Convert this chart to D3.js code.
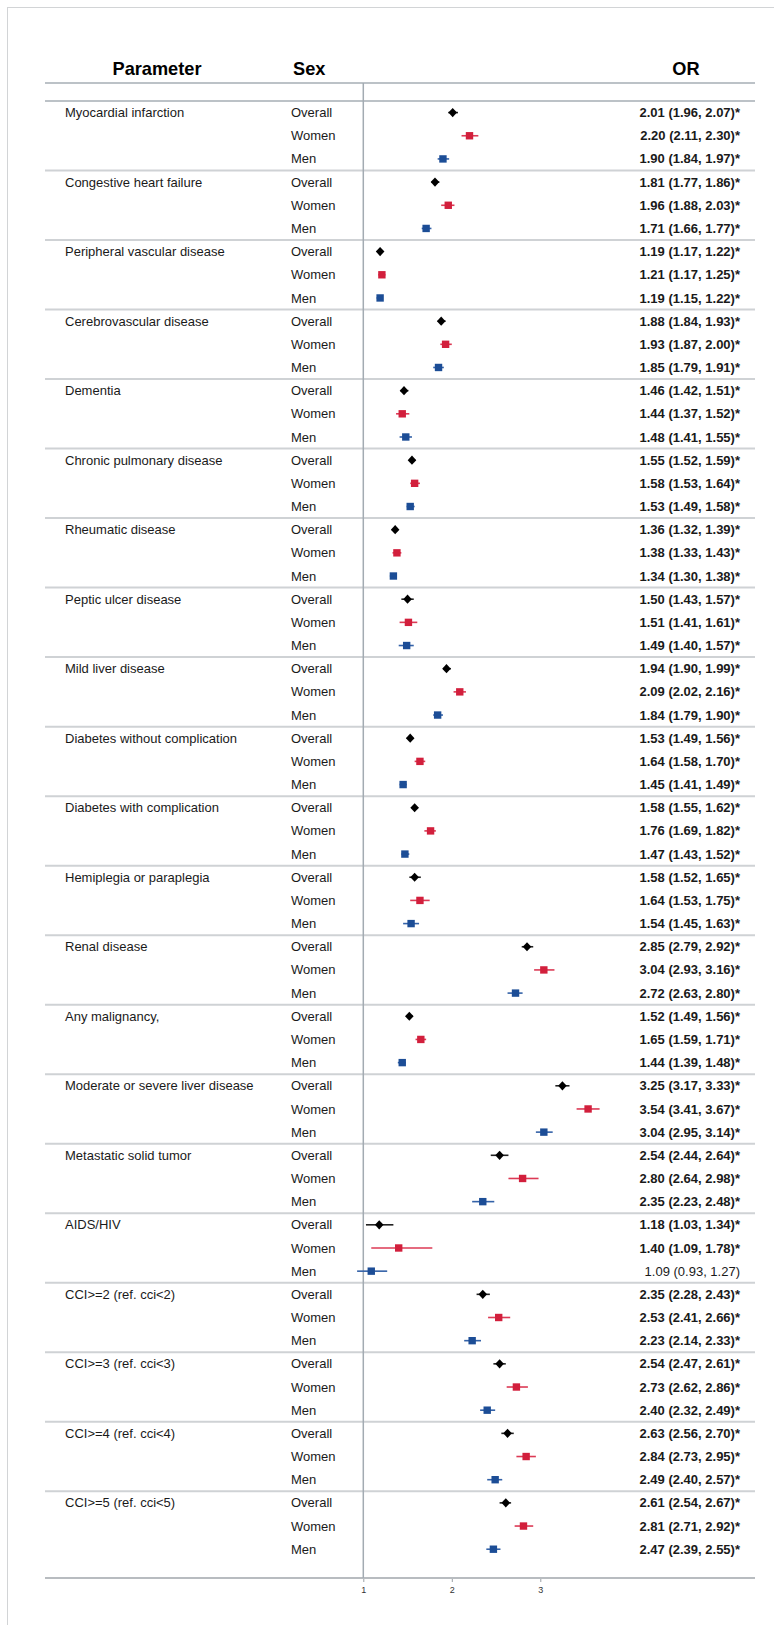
<!DOCTYPE html>
<html>
<head>
<meta charset="utf-8">
<script src="https://cdn.jsdelivr.net/npm/d3@7"></script>
<style>
  html, body { margin: 0; padding: 0; background: #fff; }
  svg { display: block; font-family: "Liberation Sans", Arial, sans-serif; }
</style>
</head>
<body>
<svg id="chart" width="774" height="1625"></svg>
<script>
// ---------- DATA ----------
const parameters = [
  "Myocardial infarction", "Congestive heart failure", "Peripheral vascular disease",
  "Cerebrovascular disease", "Dementia", "Chronic pulmonary disease", "Rheumatic disease",
  "Peptic ulcer disease", "Mild liver disease", "Diabetes without complication",
  "Diabetes with complication", "Hemiplegia or paraplegia", "Renal disease",
  "Any malignancy,", "Moderate or severe liver disease", "Metastatic solid tumor",
  "AIDS/HIV", "CCI>=2 (ref. cci<2)", "CCI>=3 (ref. cci<3)", "CCI>=4 (ref. cci<4)",
  "CCI>=5 (ref. cci<5)"
];
const sexes = ["Overall", "Women", "Men"];

const orOverall = [2.01,1.81,1.19,1.88,1.46,1.55,1.36,1.50,1.94,1.53,1.58,1.58,2.85,1.52,3.25,2.54,1.18,2.35,2.54,2.63,2.61];
const loOverall = [1.96,1.77,1.17,1.84,1.42,1.52,1.32,1.43,1.90,1.49,1.55,1.52,2.79,1.49,3.17,2.44,1.03,2.28,2.47,2.56,2.54];
const hiOverall = [2.07,1.86,1.22,1.93,1.51,1.59,1.39,1.57,1.99,1.56,1.62,1.65,2.92,1.56,3.33,2.64,1.34,2.43,2.61,2.70,2.67];

const orWomen = [2.20,1.96,1.21,1.93,1.44,1.58,1.38,1.51,2.09,1.64,1.76,1.64,3.04,1.65,3.54,2.80,1.40,2.53,2.73,2.84,2.81];
const loWomen = [2.11,1.88,1.17,1.87,1.37,1.53,1.33,1.41,2.02,1.58,1.69,1.53,2.93,1.59,3.41,2.64,1.09,2.41,2.62,2.73,2.71];
const hiWomen = [2.30,2.03,1.25,2.00,1.52,1.64,1.43,1.61,2.16,1.70,1.82,1.75,3.16,1.71,3.67,2.98,1.78,2.66,2.86,2.95,2.92];

const orMen = [1.90,1.71,1.19,1.85,1.48,1.53,1.34,1.49,1.84,1.45,1.47,1.54,2.72,1.44,3.04,2.35,1.09,2.23,2.40,2.49,2.47];
const loMen = [1.84,1.66,1.15,1.79,1.41,1.49,1.30,1.40,1.79,1.41,1.43,1.45,2.63,1.39,2.95,2.23,0.93,2.14,2.32,2.40,2.39];
const hiMen = [1.97,1.77,1.22,1.91,1.55,1.58,1.38,1.57,1.90,1.49,1.52,1.63,2.80,1.48,3.14,2.48,1.27,2.33,2.49,2.57,2.55];

const xTicks = [1, 2, 3];
const headers = ["Parameter", "Sex", "OR"];

// ---------- BUILD ROWS ----------
const series = {
  Overall: {or: orOverall, lo: loOverall, hi: hiOverall, color: "#000000", line: "#222222"},
  Women:   {or: orWomen,   lo: loWomen,   hi: hiWomen,   color: "#d21f3c", line: "#dc3a55"},
  Men:     {or: orMen,     lo: loMen,     hi: hiMen,     color: "#1c4d96", line: "#3462a8"}
};
const rows = [];
parameters.forEach((p, gi) => {
  sexes.forEach((s, si) => {
    const d = series[s];
    rows.push({
      idx: gi * 3 + si, group: gi, param: si === 0 ? p : "", sex: s,
      or: d.or[gi], lo: d.lo[gi], hi: d.hi[gi], color: d.color, line: d.line
    });
  });
});

// ---------- LAYOUT ----------
const svg = d3.select("#chart");
const left = 45, right = 755;
const fmt = d3.format(".2f");

const x = d3.scaleLinear().domain([1, 3]).range([363.3, 540.3]);
const y = d3.scaleBand().domain(d3.range(rows.length)).range([101, 1560.8]).padding(0);
const rowH = y.bandwidth();

// outer frame (extends past viewport, as in reference)
svg.append("rect").attr("x", 7.5).attr("y", 7.5).attr("width", 800).attr("height", 1700)
  .attr("fill", "none").attr("stroke", "#d2d4d6").attr("stroke-width", 1);

// headers
const headerY = 74.5;
const hfs = 18.2;
svg.append("text").attr("x", 157).attr("y", headerY).attr("text-anchor", "middle")
  .attr("font-size", hfs).attr("font-weight", "bold").attr("fill", "#000").text(headers[0]);
svg.append("text").attr("x", 293).attr("y", headerY).attr("text-anchor", "start")
  .attr("font-size", hfs).attr("font-weight", "bold").attr("fill", "#000").text(headers[1]);
svg.append("text").attr("x", 686).attr("y", headerY).attr("text-anchor", "middle")
  .attr("font-size", hfs).attr("font-weight", "bold").attr("fill", "#000").text(headers[2]);

// header rules
[83, y.range()[0]].forEach(yy => {
  svg.append("line").attr("x1", left).attr("x2", right).attr("y1", yy).attr("y2", yy)
    .attr("stroke", "#bcc2c7").attr("stroke-width", 2);
});

// group separators
const seps = d3.range(1, parameters.length).map(k => y(k * 3));
svg.append("g").selectAll("line").data(seps).join("line")
  .attr("x1", left).attr("x2", right).attr("y1", d => d).attr("y2", d => d)
  .attr("stroke", "#cfd2d5").attr("stroke-width", 2);

// axis at bottom
const axisY = 1578;
const axis = svg.append("g").attr("transform", `translate(0,${axisY})`)
  .call(d3.axisBottom(x).tickValues(xTicks).tickFormat(d3.format("d")).tickSize(4).tickPadding(5));
axis.select(".domain").remove();
axis.selectAll(".tick line").attr("stroke", "#9aa0a6");
axis.selectAll(".tick text").attr("font-size", 9).attr("fill", "#333")
  .attr("font-family", "Liberation Sans, Arial, sans-serif");
svg.append("line").attr("x1", left).attr("x2", right).attr("y1", axisY).attr("y2", axisY)
  .attr("stroke", "#b8bcc0").attr("stroke-width", 2);

// reference vertical line at OR = 1
svg.append("line").attr("x1", x(1)).attr("x2", x(1)).attr("y1", 83).attr("y2", axisY)
  .attr("stroke", "#a3abb2").attr("stroke-width", 1.5);

// row texts
const cy = d => y(d.idx) + rowH / 2;
const g = svg.append("g");
g.selectAll("text.param").data(rows.filter(r => r.param)).join("text")
  .attr("class", "param").attr("x", 65).attr("y", cy).attr("dy", "0.35em")
  .attr("font-size", 13).attr("fill", "#1a1a1a").text(d => d.param);
g.selectAll("text.sex").data(rows).join("text")
  .attr("class", "sex").attr("x", 291).attr("y", cy).attr("dy", "0.35em")
  .attr("font-size", 13).attr("fill", "#1a1a1a").text(d => d.sex);
g.selectAll("text.or").data(rows).join("text")
  .attr("class", "or").attr("x", 740).attr("y", cy).attr("dy", "0.35em")
  .attr("text-anchor", "end").attr("font-size", 13)
  .attr("font-weight", d => (d.lo > 1 || d.hi < 1) ? "bold" : "normal")
  .attr("fill", "#1a1a1a")
  .text(d => `${fmt(d.or)} (${fmt(d.lo)}, ${fmt(d.hi)})${(d.lo > 1 || d.hi < 1) ? "*" : ""}`);

// CI lines
g.selectAll("line.ci").data(rows).join("line")
  .attr("class", "ci").attr("x1", d => x(d.lo)).attr("x2", d => x(d.hi))
  .attr("y1", cy).attr("y2", cy).attr("stroke", d => d.line).attr("stroke-width", 1.6);

// markers
const diamond = (hw, hh) => `M0,${-hh}L${hw},0L0,${hh}L${-hw},0Z`;
g.selectAll("path.mk").data(rows).join("path")
  .attr("class", "mk")
  .attr("transform", d => `translate(${x(d.or)},${cy(d)})`)
  .attr("d", d => d.sex === "Overall" ? diamond(4.3, 4.6) : "M-3.7,-3.7H3.7V3.7H-3.7Z")
  .attr("fill", d => d.color);
</script>
</body>
</html>
